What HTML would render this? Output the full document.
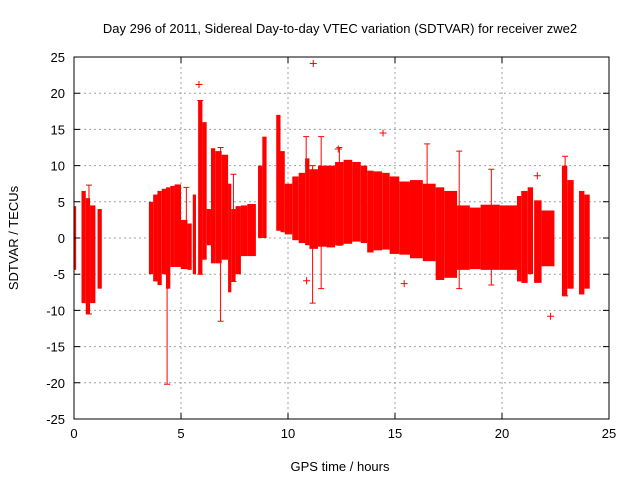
<!DOCTYPE html>
<html><head><meta charset="utf-8"><style>
body{margin:0;background:#fff}
svg text{font-family:"Liberation Sans",sans-serif;font-size:13px;fill:#000}
</style></head><body>
<svg id="chart" width="640" height="480" viewBox="0 0 640 480" xmlns="http://www.w3.org/2000/svg">
<rect width="640" height="480" fill="#fff"/>
<text x="340" y="33" text-anchor="middle">Day 296 of 2011, Sidereal Day-to-day VTEC variation (SDTVAR) for receiver zwe2</text>
<g id="grid"></g>
<g id="data"></g>
<g id="axes"></g>
<text x="340" y="471" text-anchor="middle">GPS time / hours</text>
<text transform="translate(18,238) rotate(-90)" text-anchor="middle">SDTVAR / TECUs</text>
</svg>
<script>
// band blocks: start hour, end hour, low, high
const bandStart=[0.0,0.35,0.55,0.75,1.1,3.5,3.7,3.9,4.1,4.3,4.5,4.7,5.0,5.3,5.55,5.8,6.0,6.2,6.4,6.6,6.9,7.2,7.35,7.55,7.8,8.1,8.6,8.8,9.45,9.65,9.85,10.2,10.5,10.8,11.0,11.4,11.8,12.2,12.6,13.0,13.4,13.7,14.0,14.4,14.75,15.2,15.7,16.3,16.9,17.3,17.9,18.5,19.0,19.9,20.7,20.9,21.2,21.5,21.85,22.8,23.05,23.6,23.85];
const bandEnd=[0.1,0.55,0.75,1.0,1.3,3.7,3.9,4.1,4.3,4.5,4.7,5.0,5.3,5.5,5.7,6.0,6.2,6.4,6.6,6.9,7.2,7.35,7.55,7.8,8.1,8.5,8.8,9.0,9.65,9.85,10.2,10.5,10.8,11.0,11.4,11.8,12.2,12.6,13.0,13.4,13.7,14.0,14.4,14.75,15.2,15.7,16.3,16.9,17.3,17.9,18.5,19.0,19.9,20.7,20.9,21.2,21.45,21.85,22.45,23.05,23.35,23.85,24.1];
const bandLow=[-4.4,-9,-10.5,-9,-7,-5,-6,-6.5,-5,-7,-4,-4,-4.3,-4.4,-5,-5,-3,-1,-3.5,-3.5,-3,-7.5,-6,-5,-2.5,-2.5,0,0,1,0.8,0.5,-0.3,-0.7,-1,-1.5,-1.2,-1.3,-1,-0.8,-0.5,-0.7,-2,-1.7,-1.6,-2.2,-2.3,-2.8,-3.2,-5.8,-5.5,-4.4,-4.3,-4.4,-4.4,-6,-6.2,-5,-6.2,-3.9,-8,-7,-7.8,-7];
const bandHigh=[4.4,6.5,5.5,4.5,4,5,6,6.5,6.8,7,7.2,7.4,2.5,2,6,19,16,4,12.4,12,11.5,7.5,4,4.4,4.5,4.7,10,14,17,12,7.5,8.5,9,11,9.5,10,10,10.5,10.8,10.5,10,9.3,9.2,9,8.5,7.8,8,7.5,7,6.5,4.5,4.2,4.6,4.5,5.8,6.5,7,5.2,3.8,10,8,6.5,6];
// error-bar spikes: hour, low, high
const spikeT=[0.7,4.35,5.25,5.9,6.85,7.45,10.85,11.15,11.55,12.4,16.5,18.0,19.5,22.95];
const spikeLo=[-10.5,-20.2,-4,-5,-11.5,-6,-0.5,-9,-7,-1,-3,-7,-6.5,-8];
const spikeHi=[7.3,2,7,19,12.5,8.8,14,10,14,12.5,13,12,9.5,11.3];
// isolated points: hour, value
const ptT=[5.84,11.18,10.87,14.44,21.65,22.27,15.43,12.35];
const ptV=[21.2,24.1,-5.9,14.5,8.6,-10.8,-6.3,12.3];
const xTicks=[0,5,10,15,20,25];
const yTicks=[-25,-20,-15,-10,-5,0,5,10,15,20,25];

const L=74,R=609,T=57,B=419;
const X=h=>L+(h-0)/25*(R-L);
const Y=v=>B-(v+25)/50*(B-T);
const NS="http://www.w3.org/2000/svg";
function mk(p,tag,a){const e=document.createElementNS(NS,tag);for(const k in a)e.setAttribute(k,a[k]);p.appendChild(e);return e;}
const grid=document.getElementById('grid'),data=document.getElementById('data'),axes=document.getElementById('axes');
xTicks.forEach(t=>{
  if(t>0&&t<25){const g=mk(grid,'line',{x1:X(t),x2:X(t),y1:T,y2:B,stroke:'#a0a0a0','stroke-dasharray':'2,3'});
  
  }
  const tk=mk(axes,'path',{d:`M${X(t)},${B}v-6M${X(t)},${T}v6`,stroke:'#000'});
  
  
  const lb=mk(axes,'text',{x:X(t),y:B+19,'text-anchor':'middle'});lb.textContent=t;
  
  
});
yTicks.forEach(t=>{
  if(t>-25&&t<25){const g=mk(grid,'line',{x1:L,x2:R,y1:Y(t),y2:Y(t),stroke:'#a0a0a0','stroke-dasharray':'2,3'});
  
  }
  const tk=mk(axes,'path',{d:`M${L},${Y(t)}h6M${R},${Y(t)}h-6`,stroke:'#000'});
  
  
  const lb=mk(axes,'text',{x:L-9,y:Y(t)+5,'text-anchor':'end'});lb.textContent=t;
  
  
});
const fr=mk(axes,'rect',{x:L,y:T,width:R-L,height:B-T,fill:'none',stroke:'#000'});


bandStart.forEach((s,i)=>{
  const r=mk(data,'rect',{x:X(s),y:Y(bandHigh[i]),width:X(bandEnd[i])-X(s),height:Y(bandLow[i])-Y(bandHigh[i]),fill:'#ff0000'});
  
  
});
spikeT.forEach((t,i)=>{
  const x=X(t);
  const p=mk(data,'path',{d:`M${x},${Y(spikeLo[i])}V${Y(spikeHi[i])}M${x-3},${Y(spikeLo[i])}h6M${x-3},${Y(spikeHi[i])}h6`,stroke:'#ff0000','stroke-width':1});
  
  
});
ptT.forEach((t,i)=>{
  const x=X(t),y=Y(ptV[i]);
  const p=mk(data,'path',{d:`M${x-3.5},${y}h7M${x},${y-3.5}v7`,stroke:'#ff0000','stroke-width':1});
  
  
});
</script>
</body></html>
